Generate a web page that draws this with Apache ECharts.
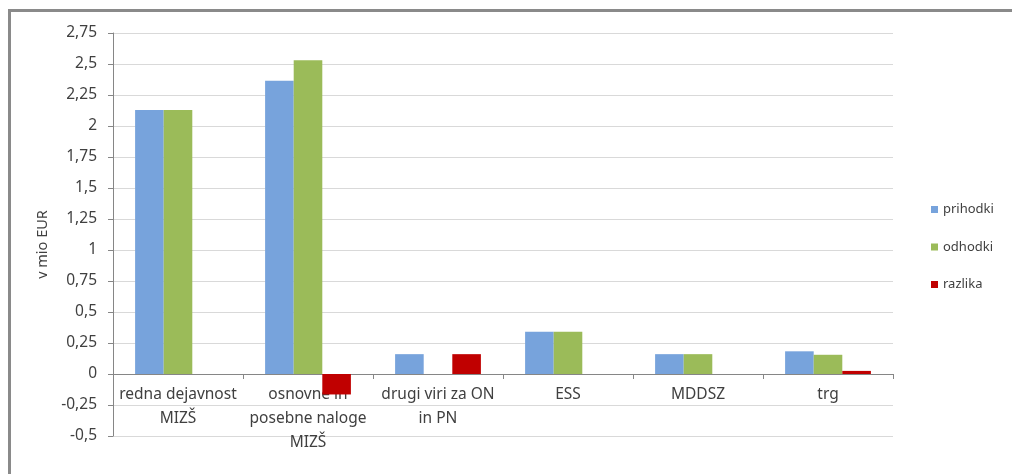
<!DOCTYPE html>
<html>
<head>
<meta charset="utf-8">
<script src="https://cdn.jsdelivr.net/npm/echarts@6/dist/echarts.min.js"></script>
<style>
  html, body { margin: 0; padding: 0; background: #fff; }
  #frame { position: absolute; left: 8px; top: 9px; width: 1004px; height: 465px;
           border-top: 3px solid #8a8a8a; border-left: 3px solid #8a8a8a; box-sizing: border-box; }
  #chart { position: absolute; left: 0; top: 0; width: 1012px; height: 474px; }
</style>
</head>
<body>
<div id="frame"></div>
<div id="chart"></div>
<script>
const categories = ['redna dejavnost\nMIZŠ', 'osnovne in\nposebne naloge\nMIZŠ', 'drugi viri za ON\nin PN', 'ESS', 'MDDSZ', 'trg'];
const prihodki = [2.13, 2.365, 0.16, 0.34, 0.16, 0.183];
const odhodki  = [2.13, 2.53, 0, 0.34, 0.16, 0.155];
const razlika  = [0, -0.165, 0.16, 0, 0, 0.025];
const seriesNames = ['prihodki', 'odhodki', 'razlika'];
const yTicks = { min: -0.5, max: 2.75, interval: 0.25 };

const H = 474, gridTop = 33, gridBottom = 38;
const plotH = H - gridTop - gridBottom;
const zeroOffset = -((0 - yTicks.min) / (yTicks.max - yTicks.min)) * plotH;

const font = 'Noto Sans, Liberation Sans, sans-serif';
const chart = echarts.init(document.getElementById('chart'), null, { renderer: 'canvas' });
chart.setOption({
  animation: false,
  backgroundColor: 'transparent',
  grid: { left: 113, right: 119, top: gridTop, bottom: gridBottom, containLabel: false, outerBoundsMode: 'none' },
  legend: {
    orient: 'vertical', left: 926, top: 196,
    icon: 'rect', itemWidth: 7, itemHeight: 7, itemGap: 20.5,
    textStyle: { fontFamily: font, fontSize: 13, color: '#404040', lineHeight: 17 },
    data: seriesNames
  },
  xAxis: {
    type: 'category', data: categories, position: 'bottom', offset: zeroOffset,
    axisLine: { onZero: false, lineStyle: { color: '#868686', width: 1 } },
    axisTick: { show: true, alignWithLabel: false, length: 5, lineStyle: { color: '#868686' } },
    axisLabel: { interval: 0, margin: 9, fontFamily: font, fontSize: 15.5, color: '#404040', lineHeight: 24 },
    splitLine: { show: false }
  },
  yAxis: {
    type: 'value', min: yTicks.min, max: yTicks.max, interval: yTicks.interval,
    name: 'v mio EUR', nameLocation: 'middle', nameGap: 60, nameRotate: 90,
    nameTextStyle: { fontFamily: font, fontSize: 14.5, color: '#404040', padding: [0, 20, 0, 0] },
    axisLine: { show: true, lineStyle: { color: '#868686' } },
    axisTick: { show: true, length: 5, lineStyle: { color: '#868686' } },
    axisLabel: { margin: 16, fontFamily: font, fontSize: 15.5, color: '#404040',
      formatter: v => String(Math.round(v * 100) / 100).replace('.', ',') },
    splitLine: { lineStyle: { color: '#d9d9d9', width: 1 } }
  },
  series: [
    { name: seriesNames[0], type: 'bar', data: prihodki, itemStyle: { color: '#77a3dc' }, barGap: '0%', barCategoryGap: '34%' },
    { name: seriesNames[1], type: 'bar', data: odhodki, itemStyle: { color: '#9bbb59' }, barGap: '0%', barCategoryGap: '34%' },
    { name: seriesNames[2], type: 'bar', data: razlika, itemStyle: { color: '#c00000' }, barGap: '0%', barCategoryGap: '34%' }
  ]
});
</script>
</body>
</html>
